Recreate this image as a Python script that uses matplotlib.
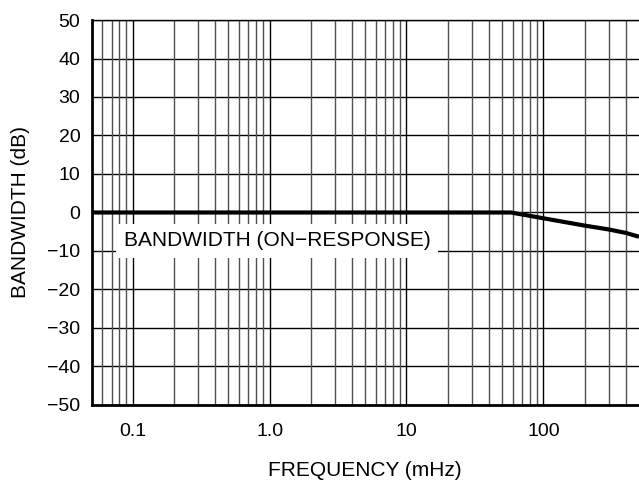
import matplotlib
matplotlib.use("Agg")
import matplotlib.pyplot as plt
import numpy as np

# Data
freq_mhz = [0.05, 0.1, 1.0, 10, 50, 58, 100, 200, 300, 400, 500]
bandwidth_db = [0.0, 0.0, 0.0, 0.0, 0.0, 0.0, -1.5, -3.4, -4.4, -5.3, -6.3]
x_ticks = [0.1, 1.0, 10, 100]
x_tick_labels = ["0.1", "1.0", "10", "100"]
y_ticks = [-50, -40, -30, -20, -10, 0, 10, 20, 30, 40, 50]
y_tick_labels = ["\u221250", "\u221240", "\u221230", "\u221220", "\u221210", "0",
                 "10", "20", "30", "40", "50"]
annotation = "BANDWIDTH (ON\u2212RESPONSE)"

plt.rcParams['font.family'] = ['Liberation Sans', 'DejaVu Sans']

fig = plt.figure(figsize=(6.39, 4.82), dpi=100)
ax = fig.add_axes([0.1432, 0.1598, 0.8568, 0.7987])

ax.set_xscale('log')
ax.set_xlim(0.05, 500)
ax.set_ylim(-50, 50)

# Grid lines: horizontal (black), vertical minor (grey), decade (black)
for yv in y_ticks:
    ax.axhline(yv, color='black', lw=1.0, zorder=1)
for dec in [0.01, 0.1, 1, 10, 100]:
    for m in range(2, 10):
        xv = dec * m
        if 0.05 < xv < 500:
            ax.axvline(xv, color='#505050', lw=1.0, zorder=1)
for xv in x_ticks:
    ax.axvline(xv, color='black', lw=1.0, zorder=1)

ax.plot(freq_mhz, bandwidth_db, color='black', lw=3.0, zorder=4,
        solid_capstyle='butt')

ax.set_xticks(x_ticks)
ax.set_xticklabels(x_tick_labels)
ax.xaxis.set_minor_locator(matplotlib.ticker.NullLocator())
ax.set_yticks(y_ticks)
ax.set_yticklabels(y_tick_labels)
ax.tick_params(axis='x', length=0, pad=13, labelsize=14, colors='black')
ax.tick_params(axis='y', length=0, pad=8, labelsize=14, colors='black')

ax.set_xlabel("FREQUENCY (mHz)", fontsize=15, labelpad=15)
ax.set_ylabel("BANDWIDTH (dB)", fontsize=15, labelpad=12)

for side in ['left', 'bottom']:
    ax.spines[side].set_linewidth(2.0)
    ax.spines[side].set_zorder(5)
ax.spines['top'].set_linewidth(1.0)
ax.spines['right'].set_visible(False)

ax.text(0.339, 0.426, annotation, transform=ax.transAxes, fontsize=15,
        ha='center', va='center', zorder=3,
        bbox=dict(boxstyle='square,pad=0.36', fc='white', ec='none'))

fig.savefig("out.png", dpi=100)
